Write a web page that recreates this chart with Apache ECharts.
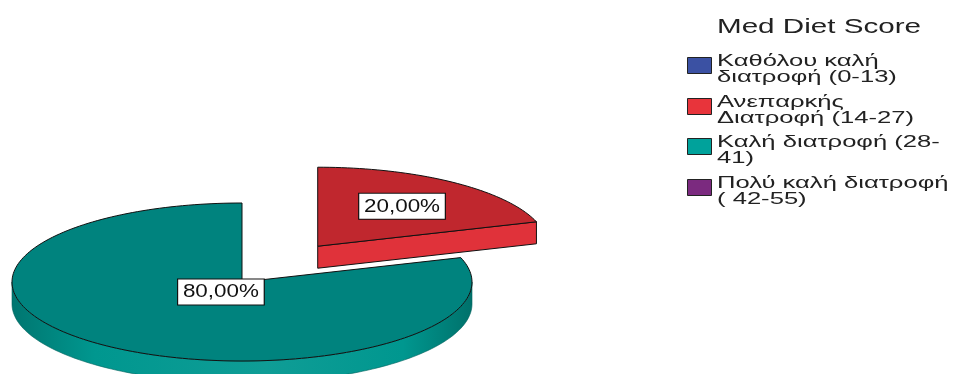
<!DOCTYPE html>
<html>
<head>
<meta charset="utf-8">
<script src="https://cdn.jsdelivr.net/npm/echarts@6/dist/echarts.min.js"></script>
<style>
  html, body { margin: 0; padding: 0; background: #ffffff; }
  #chart { width: 956px; height: 374px; }
</style>
</head>
<body>
<div id="chart"></div>
<script>
// Categories of the Mediterranean diet score (legend wraps at '\n')
const categories = [
  'Καθόλου καλή\nδιατροφή (0-13)',
  'Ανεπαρκής\nΔιατροφή (14-27)',
  'Καλή διατροφή (28-\n41)',
  'Πολύ καλή διατροφή\n( 42-55)'
];
// Share of respondents per category, in percent
const percentages = [0, 20, 80, 0];
const legendTitle = 'Med Diet Score';

// Colours: top face, outer wall, legend swatch
const topColors    = ['#3a4f9f', '#c0272e', '#00837e', '#792a7c'];
const sideColors   = ['#4a60b5', '#e0323a', '#00978f', '#8e3590'];
const swatchColors = ['#3b51a3', '#e8343b', '#00a29b', '#7b2a7f'];

// Pie geometry (pixels) and the pulled-out slice
const PIE = { cx: 242, cy: 282, rx: 230, ry: 79, depth: 22 };
const EXPLODED_INDEX = 1;
const EXPLODE = 0.56;   // fraction of the radius
const FONT = 'Liberation Sans, Arial, Helvetica, sans-serif';

const total = percentages.reduce((a, b) => a + b, 0);
const cumBefore = percentages.map((_, i) =>
  percentages.slice(0, i).reduce((a, b) => a + b, 0));

function shade(hex, f) {
  const n = parseInt(hex.slice(1), 16);
  let r = (n >> 16) & 255, g = (n >> 8) & 255, b = n & 255;
  const t = f < 0 ? 0 : 255, p = Math.abs(f);
  r = Math.round(r + (t - r) * p);
  g = Math.round(g + (t - g) * p);
  b = Math.round(b + (t - b) * p);
  return 'rgb(' + r + ',' + g + ',' + b + ')';
}

function fmtPct(v) {
  return (v / total * 100).toFixed(2).replace('.', ',') + '%';
}

function renderItem(params, api) {
  const i = params.dataIndex;
  const v = api.value(0);
  if (!v) return { type: 'group', children: [] };

  // slices start at 12 o'clock and run clockwise
  const a1 = 90 - cumBefore[i] / total * 360;
  const a0 = a1 - v / total * 360;
  const mid = (a0 + a1) / 2 * Math.PI / 180;
  const ex = i === EXPLODED_INDEX ? EXPLODE : 0;
  const cx = PIE.cx + ex * PIE.rx * Math.cos(mid);
  const cy = PIE.cy - ex * PIE.ry * Math.sin(mid);
  const rx = PIE.rx, ry = PIE.ry, d = PIE.depth;

  const pt = (deg, dz) => {
    const r = deg * Math.PI / 180;
    return [cx + rx * Math.cos(r), cy - ry * Math.sin(r) + dz];
  };
  const arc = (from, to, dz) => {
    const n = Math.max(2, Math.ceil(Math.abs(to - from) / 1.5));
    const pts = [];
    for (let k = 0; k <= n; k++) pts.push(pt(from + (to - from) * k / n, dz));
    return pts;
  };

  const base = Math.round(-Math.sin(mid) * 100) * 4;
  const children = [];
  const side = sideColors[i];
  const wallFill = {
    type: 'linear', global: true,
    x: PIE.cx - rx, y: 0, x2: PIE.cx + rx, y2: 0,
    colorStops: [
      { offset: 0,    color: shade(side, -0.22) },
      { offset: 0.18, color: side },
      { offset: 0.55, color: shade(side, 0.06) },
      { offset: 0.85, color: side },
      { offset: 1,    color: shade(side, -0.25) }
    ]
  };

  // outer wall: only the front half (sin < 0) can be seen
  for (let k = -2; k <= 1; k++) {
    const lo = Math.max(a0, 180 + 360 * k);
    const hi = Math.min(a1, 360 + 360 * k);
    if (hi > lo) {
      children.push({
        type: 'polygon', z2: base,
        shape: { points: arc(lo, hi, 0).concat(arc(hi, lo, d)) },
        style: { fill: wallFill, stroke: shade(side, -0.35), lineWidth: 0.6 }
      });
    }
  }
  // radial cut faces that turn towards the viewer
  const radial = (deg) => ({
    type: 'polygon', z2: base + 1,
    shape: { points: [[cx, cy], pt(deg, 0), pt(deg, d), [cx, cy + d]] },
    style: { fill: side, stroke: '#111', lineWidth: 1 }
  });
  if (Math.cos(a0 * Math.PI / 180) > 1e-6) children.push(radial(a0));
  if (Math.cos(a1 * Math.PI / 180) < -1e-6) children.push(radial(a1));

  // top face
  children.push({
    type: 'polygon', z2: base + 2,
    shape: { points: [[cx, cy]].concat(arc(a0, a1, 0)) },
    style: { fill: topColors[i], stroke: '#111', lineWidth: 1 }
  });

  // value label at the centroid of the sector
  const half = (a1 - a0) / 2 * Math.PI / 180;
  const cr = (2 / 3) * Math.sin(half) / half;
  children.push({
    type: 'text', z2: 1000,
    x: cx + cr * rx * Math.cos(mid),
    y: cy - cr * ry * Math.sin(mid),
    scaleX: 1.18,
    style: {
      text: fmtPct(v), x: 0, y: 0,
      font: '19px ' + FONT, fill: '#111',
      align: 'center', verticalAlign: 'middle',
      backgroundColor: '#ffffff', borderColor: '#111', borderWidth: 1,
      padding: [3, 4, 3, 4]
    }
  });

  return { type: 'group', children };
}

// Legend: title, swatches and wrapped category names
const LEG = { x: 687, top: 57, pitch: 40.7, sw: 24, sh: 16, textX: 717 };
const graphic = [{
  type: 'text', x: 717, y: 17, scaleX: 1.48,
  style: { text: legendTitle, x: 0, y: 0, font: '20px ' + FONT, fill: '#222',
           align: 'left', verticalAlign: 'top' }
}];
categories.forEach((name, i) => {
  const y = Math.round(LEG.top + LEG.pitch * i);
  graphic.push({
    type: 'rect',
    shape: { x: LEG.x + 0.5, y: y + 0.5, width: LEG.sw, height: LEG.sh },
    style: { fill: swatchColors[i], stroke: '#222', lineWidth: 1 }
  });
  graphic.push({
    type: 'text', x: LEG.textX, y: y - 3, scaleX: 1.6,
    style: { text: name, x: 0, y: 0, font: '16px ' + FONT, fill: '#222',
             lineHeight: 16, align: 'left', verticalAlign: 'top' }
  });
});

const chart = echarts.init(document.getElementById('chart'), null, { renderer: 'canvas' });
chart.setOption({
  animation: false,
  backgroundColor: '#ffffff',
  graphic: graphic,
  series: [{
    type: 'custom',
    coordinateSystem: 'none',
    silent: true,
    renderItem: renderItem,
    data: percentages.map((v, i) => [v, i])
  }]
});
</script>
</body>
</html>
